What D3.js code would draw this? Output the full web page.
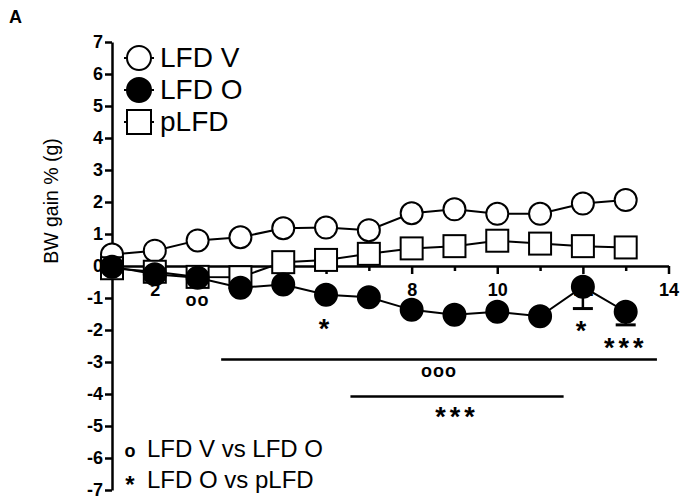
<!DOCTYPE html>
<html>
<head>
<meta charset="utf-8">
<script src="https://cdn.jsdelivr.net/npm/d3@7"></script>
<style>
  body { margin: 0; background: #fff; }
  text { font-family: Arial, "Liberation Sans", sans-serif; }
</style>
</head>
<body>
<svg width="682" height="500"></svg>
<script>
// data
var weeks = [1, 2, 3, 4, 5, 6, 7, 8, 9, 10, 11, 12, 13];
var lfdV = [0.36, 0.48, 0.8, 0.9, 1.18, 1.2, 1.12, 1.65, 1.77, 1.63, 1.63, 1.95, 2.06];
var lfdO = [-0.02, -0.26, -0.37, -0.68, -0.58, -0.9, -0.98, -1.37, -1.52, -1.43, -1.57, -0.65, -1.43];
var lfdOErr = [0.06, 0.07, 0.07, 0.08, 0.07, 0.08, 0.08, 0.08, 0.08, 0.08, 0.08, 0.68, 0.41];
var pLFD = [-0.07, -0.18, -0.34, -0.35, 0.12, 0.19, 0.38, 0.55, 0.62, 0.79, 0.7, 0.62, 0.58];
var yTicks = [-7, -6, -5, -4, -3, -2, -1, 0, 1, 2, 3, 4, 5, 6, 7];
var xMajor = [2, 4, 6, 8, 10, 12, 14];
var xMinor = [3, 5, 7, 9, 11, 13];
// significance marks (x in weeks, y in % units)
var sigMarks = [
  { x: 3, y: -1.1, t: "oo" },
  { x: 6, y: -1.75, t: "*" },
  { x: 12, y: -1.8, t: "*" },
  { x: 13, y: -2.35, t: "***" }
];
var sigBars = [
  { x0: 3.55, x1: 13.73, y: -2.92, t: "ooo" },
  { x0: 6.57, x1: 11.55, y: -4.08, t: "***" }
];

var svg = d3.select("svg");
var font = "Arial, 'Liberation Sans', sans-serif";

var x = d3.scaleLinear().domain([1, 14]).range([112, 668.5]);
var y = d3.scaleLinear().domain([-7, 7]).range([490, 42]);

svg.append("text")
  .attr("x", 9).attr("y", 23)
  .attr("font-size", "18px").attr("font-weight", "bold")
  .text("A");

// y axis
var yAxis = svg.append("g")
  .attr("transform", "translate(" + x(1) + ",0)")
  .call(d3.axisLeft(y).tickValues(yTicks).tickSize(7).tickSizeOuter(0).tickPadding(2)
    .tickFormat(function (d) { return String(d); }));
yAxis.select(".domain").attr("stroke-width", 2.5);
yAxis.selectAll(".tick line").attr("stroke-width", 2.5);
yAxis.selectAll("text").attr("font-size", "18px").attr("font-weight", "bold").attr("font-family", font).attr("fill", "#000");

svg.append("text")
  .attr("transform", "translate(58,201) rotate(-90)")
  .attr("text-anchor", "middle")
  .attr("font-size", "19.5px")
  .text("BW gain % (g)");

// x axis at y = 0
var xAxis = svg.append("g")
  .attr("transform", "translate(0," + y(0) + ")")
  .call(d3.axisBottom(x).tickValues(xMajor).tickSize(8).tickSizeOuter(0).tickPadding(9)
    .tickFormat(function (d) { return String(d); }));
xAxis.select(".domain").attr("stroke-width", 2.5);
xAxis.selectAll(".tick line").attr("stroke-width", 2.5);
xAxis.selectAll("text").attr("font-size", "18px").attr("font-weight", "bold").attr("font-family", font).attr("fill", "#000");
svg.append("g")
  .attr("transform", "translate(0," + y(0) + ")")
  .call(d3.axisBottom(x).tickValues(xMinor).tickSize(5).tickFormat(""))
  .call(function (g) { g.select(".domain").remove(); })
  .selectAll("line").attr("stroke-width", 2.5);

var line = d3.line()
  .x(function (d, i) { return x(weeks[i]); })
  .y(function (d) { return y(d); });

// error bars (downward only)
svg.append("g").selectAll("g")
  .data(lfdO)
  .enter().append("g")
  .each(function (d, i) {
    var g = d3.select(this);
    g.append("line")
      .attr("x1", x(weeks[i])).attr("x2", x(weeks[i]))
      .attr("y1", y(d)).attr("y2", y(d - lfdOErr[i]))
      .attr("stroke", "#000").attr("stroke-width", 2.5);
    g.append("line")
      .attr("x1", x(weeks[i]) - 10).attr("x2", x(weeks[i]) + 10)
      .attr("y1", y(d - lfdOErr[i])).attr("y2", y(d - lfdOErr[i]))
      .attr("stroke", "#000").attr("stroke-width", 3);
  });

[lfdV, pLFD, lfdO].forEach(function (s) {
  svg.append("path")
    .datum(s)
    .attr("d", line)
    .attr("fill", "none")
    .attr("stroke", "#000")
    .attr("stroke-width", 2);
});

svg.append("g").selectAll("circle")
  .data(lfdV)
  .enter().append("circle")
  .attr("cx", function (d, i) { return x(weeks[i]); })
  .attr("cy", function (d) { return y(d); })
  .attr("r", 11)
  .attr("fill", "#fff").attr("stroke", "#000").attr("stroke-width", 2);

svg.append("g").selectAll("rect")
  .data(pLFD)
  .enter().append("rect")
  .attr("x", function (d, i) { return x(weeks[i]) - 11; })
  .attr("y", function (d) { return y(d) - 11; })
  .attr("width", 22).attr("height", 22)
  .attr("fill", "#fff").attr("stroke", "#000").attr("stroke-width", 2);

svg.append("g").selectAll("circle")
  .data(lfdO)
  .enter().append("circle")
  .attr("cx", function (d, i) { return x(weeks[i]); })
  .attr("cy", function (d) { return y(d); })
  .attr("r", 11)
  .attr("fill", "#000").attr("stroke", "#000").attr("stroke-width", 2);

// significance text
function sigText(g, t, cx, cy) {
  var star = t.indexOf("*") >= 0;
  g.append("text")
    .attr("x", cx)
    .attr("y", cy + (star ? 16 : 5))
    .attr("text-anchor", "middle")
    .attr("font-size", star ? "27px" : "18px")
    .attr("font-weight", "bold")
    .attr("letter-spacing", star ? "4px" : "1px")
    .text(t);
}
var sg = svg.append("g");
sigMarks.forEach(function (m) { sigText(sg, m.t, x(m.x), y(m.y)); });
sigBars.forEach(function (b) {
  sg.append("line")
    .attr("x1", x(b.x0)).attr("x2", x(b.x1))
    .attr("y1", y(b.y)).attr("y2", y(b.y))
    .attr("stroke", "#000").attr("stroke-width", 2.5);
  sigText(sg, b.t, (x(b.x0) + x(b.x1)) / 2, y(b.y) + 13);
});

// top legend
var legend = [
  { name: "LFD V", shape: "circle", fill: "#fff" },
  { name: "LFD O", shape: "circle", fill: "#000" },
  { name: "pLFD", shape: "square", fill: "#fff" }
];
var lg = svg.append("g");
legend.forEach(function (l, i) {
  var cy = 58 + i * 32;
  lg.append("line")
    .attr("x1", 124).attr("x2", 154).attr("y1", cy).attr("y2", cy)
    .attr("stroke", "#000").attr("stroke-width", 2);
  if (l.shape === "circle") {
    lg.append("circle").attr("cx", 139).attr("cy", cy).attr("r", 12)
      .attr("fill", l.fill).attr("stroke", "#000").attr("stroke-width", 2);
  } else {
    lg.append("rect").attr("x", 127).attr("y", cy - 12).attr("width", 24).attr("height", 24)
      .attr("fill", l.fill).attr("stroke", "#000").attr("stroke-width", 2);
  }
  lg.append("text")
    .attr("x", 160).attr("y", cy + 9)
    .attr("font-size", "28px")
    .text(l.name);
});

// bottom key
var key = [
  { sym: "o", text: "LFD V vs LFD O" },
  { sym: "*", text: "LFD O vs pLFD" }
];
key.forEach(function (k, i) {
  var by = 457 + i * 31;
  svg.append("text")
    .attr("x", 130).attr("y", k.sym === "*" ? by + 5 : by)
    .attr("text-anchor", "middle")
    .attr("font-size", k.sym === "*" ? "24px" : "18px")
    .attr("font-weight", "bold")
    .text(k.sym);
  svg.append("text")
    .attr("x", 147).attr("y", by)
    .attr("font-size", "24px")
    .text(k.text);
});
</script>
</body>
</html>
